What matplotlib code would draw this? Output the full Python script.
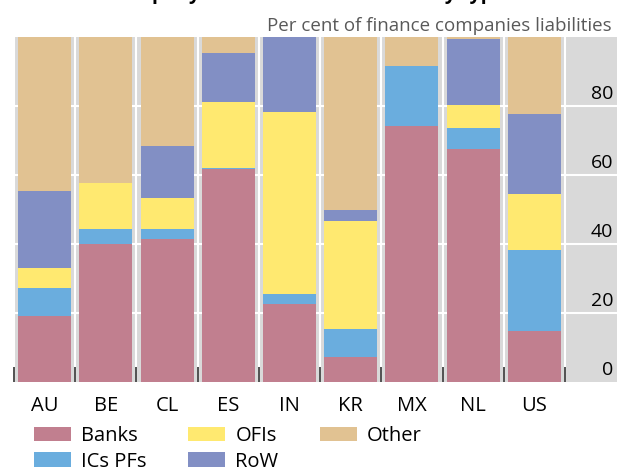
import matplotlib
matplotlib.use("Agg")
import matplotlib.pyplot as plt
import numpy as np
from matplotlib.transforms import offset_copy

plt.rcParams["font.family"] = ["Open Sans", "DejaVu Sans"]

countries = ["AU", "BE", "CL", "ES", "IN", "KR", "MX", "NL", "US"]
series_names = ["Banks", "ICs PFs", "OFIs", "RoW", "Other"]
banks = [19.0, 40.0, 41.4, 61.8, 22.7, 7.2, 74.2, 67.5, 14.8]
ics_pfs = [8.3, 4.3, 2.9, 0.3, 2.7, 8.1, 17.4, 6.0, 23.4]
ofis = [5.7, 13.4, 9.1, 19.2, 52.9, 31.4, 0.0, 6.9, 16.2]
row = [22.4, 0.0, 15.0, 14.2, 21.7, 3.1, 0.0, 19.0, 23.4]
other = [44.6, 42.3, 31.6, 4.5, 0.0, 50.2, 8.4, 0.6, 22.2]
colors = ["#c17f8f", "#6aadde", "#ffe970", "#828fc4", "#e1c292"]
y_ticks = [0, 20, 40, 60, 80]
y_tick_labels = ["0", "20", "40", "60", "80"]

title = "Finance company liabilities broken down by type"
subtitle = "Per cent of finance companies liabilities"

W, H = 617, 473
fig = plt.figure(figsize=(W / 100, H / 100), dpi=100)
ax = fig.add_axes([14 / W, 1 - 382 / H, (W - 14) / W, 345 / H])
ax.set_facecolor("#d9d9d9")

x = np.arange(len(countries))
bottom = np.zeros(len(countries))
handles = []
for name, vals, c in zip(series_names, [banks, ics_pfs, ofis, row, other], colors):
    vals = np.array(vals)
    b = ax.bar(x, vals, width=0.865, bottom=bottom, color=c, label=name,
               zorder=3, linewidth=0)
    handles.append(b)
    bottom += vals

ax.set_xlim(-0.49, 9.35)
ax.set_ylim(0, 100)

# white grid on grey background, category separators as ticks
bounds = np.arange(len(countries) + 1) - 0.5
for yv in y_ticks[1:]:
    ax.axhline(yv, color="white", lw=1.5, zorder=1)
for bx in bounds:
    ax.axvline(bx, color="white", lw=1.5, zorder=1)

ax.set_xticks(x)
ax.set_xticklabels(countries, fontsize=14.5, color="black")
ax.tick_params(axis="x", which="major", length=0, pad=10)
ax.set_xticks(bounds, minor=True)
ax.tick_params(axis="x", which="minor", direction="in", length=10.5,
               width=1.2, color="#333333")
ax.set_yticks([])

for s in ax.spines.values():
    s.set_visible(False)

# y labels sit on the right, just above each grid line
ytrans = offset_copy(ax.get_yaxis_transform(), fig=fig, x=-4, y=3, units="dots")
for yv, lab in zip(y_ticks, y_tick_labels):
    ax.text(1.0, yv, lab, transform=ytrans, ha="right", va="bottom",
            fontsize=14, color="black", zorder=5)

fig.text(612 / W, 1 - 31 / H, subtitle, ha="right", va="baseline",
         fontsize=13.5, color="#595959")
fig.text(505 / W, 1 + 1 / H, title, ha="right", va="baseline",
         fontsize=14, fontweight="bold", color="black")

fig.legend(handles=handles, labels=series_names, ncol=3,
           loc="upper left", bbox_to_anchor=(34 / W, 1 - 426 / H),
           frameon=False, fontsize=14.5, handlelength=1.85, handleheight=0.75,
           handletextpad=0.5, columnspacing=2.05, labelspacing=0.28,
           borderpad=0, borderaxespad=0)

fig.savefig("out.png", dpi=100)
